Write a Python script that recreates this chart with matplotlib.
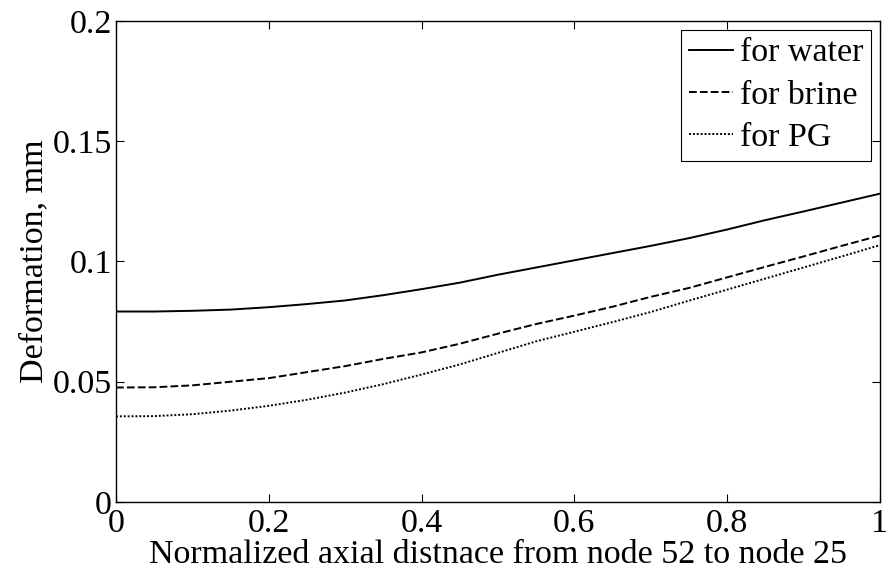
import matplotlib
matplotlib.use("Agg")
import matplotlib.pyplot as plt

# --- Data ---
x_pos = [0.0, 0.05, 0.1, 0.15, 0.2, 0.25, 0.3, 0.35, 0.4, 0.45, 0.5,
         0.55, 0.6, 0.65, 0.7, 0.75, 0.8, 0.85, 0.9, 0.95, 1.0]
water = [0.0792, 0.0792, 0.0795, 0.0800, 0.0810, 0.0823, 0.0838, 0.0860, 0.0885, 0.0912, 0.0945,
         0.0975, 0.1005, 0.1035, 0.1065, 0.1097, 0.1133, 0.1172, 0.1208, 0.1245, 0.1282]
brine = [0.0476, 0.0477, 0.0485, 0.0500, 0.0515, 0.0540, 0.0565, 0.0595, 0.0622, 0.0658, 0.0700,
         0.0740, 0.0775, 0.0812, 0.0853, 0.0890, 0.0934, 0.0978, 0.1021, 0.1065, 0.1108]
pg = [0.0356, 0.0357, 0.0365, 0.0380, 0.0400, 0.0425, 0.0455, 0.0490, 0.0530, 0.0572, 0.0620,
      0.0668, 0.0708, 0.0748, 0.0790, 0.0837, 0.0883, 0.0929, 0.0975, 0.1021, 0.1068]

x_ticks = [0, 0.2, 0.4, 0.6, 0.8, 1]
x_tick_labels = ["0", "0.2", "0.4", "0.6", "0.8", "1"]
y_ticks = [0, 0.05, 0.1, 0.15, 0.2]
y_tick_labels = ["0", "0.05", "0.1", "0.15", "0.2"]

plt.rcParams['font.family'] = ['Liberation Serif', 'DejaVu Serif']
plt.rcParams['font.size'] = 24.5

fig = plt.figure(figsize=(8.87, 5.77), dpi=100)
ax = fig.add_axes([0.1308, 0.13, 0.8612, 0.8336])

ax.plot(x_pos, water, color='black', linestyle='-', linewidth=1.4, label='for water')
ax.plot(x_pos, brine, color='black', linestyle=(0, (4, 1.6)), linewidth=1.4, label='for brine')
ax.plot(x_pos, pg, color='black', linestyle=(0, (1, 1)), linewidth=1.4, label='for PG')

ax.set_xlim(0, 1)
ax.set_ylim(0, 0.2)
ax.set_xticks(x_ticks)
ax.set_xticklabels(x_tick_labels)
ax.set_yticks(y_ticks)
ax.set_yticklabels(y_tick_labels)
ax.tick_params(direction='in', length=5.5, width=0.8, top=True, right=True)
ax.tick_params(axis='x', pad=5)
ax.tick_params(axis='y', pad=3)
for s in ax.spines.values():
    s.set_linewidth(1.0)

ax.set_xlabel('Normalized axial distnace from node 52 to node 25', labelpad=0)
ax.set_ylabel('Deformation, mm', labelpad=2)

leg = ax.legend(loc='upper right', fancybox=False, framealpha=1, edgecolor='black',
                handlelength=1.3, handletextpad=0.2, borderpad=0.24, labelspacing=0.34,
                borderaxespad=0.25)
leg.get_frame().set_linewidth(0.8)

fig.savefig('out.png', dpi=100)
